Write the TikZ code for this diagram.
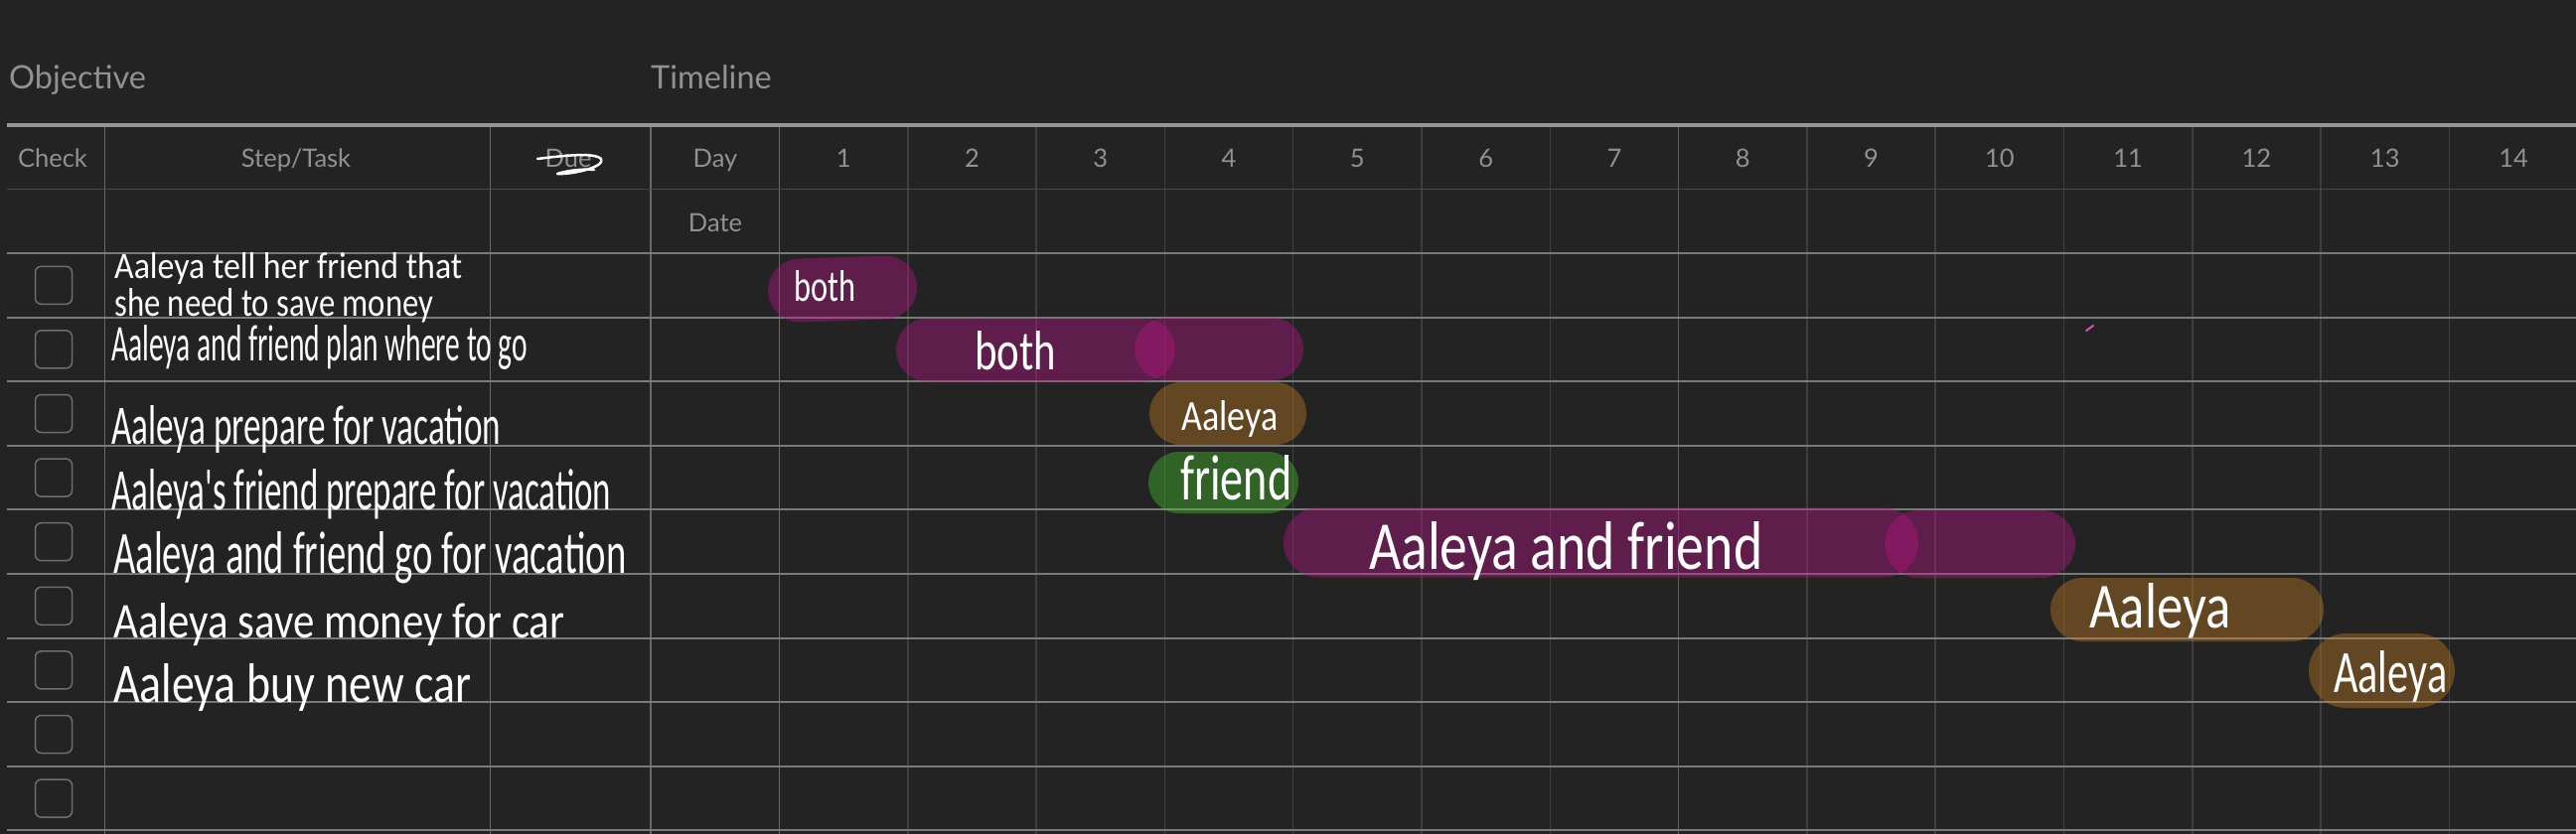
\documentclass[tikz,border=0pt]{standalone}
\usepackage{fontspec}
\usepackage{graphicx}
\usetikzlibrary{shapes.misc}
\newfontfamily\uifont{Lato}
\newfontfamily\handfont{Carlito}
\definecolor{bgc}{RGB}{35,35,35}
\definecolor{hdrc}{RGB}{145,145,145}
\definecolor{thickc}{RGB}{150,150,150}
\definecolor{rowc}{RGB}{122,122,122}
\definecolor{dimc}{RGB}{62,62,62}
\definecolor{hdimc}{RGB}{74,74,74}
\definecolor{vbrightc}{RGB}{105,105,105}
\definecolor{weekc}{RGB}{92,92,92}
\definecolor{boxc}{RGB}{110,110,110}
\definecolor{magc}{RGB}{184,21,133}
\definecolor{orac}{RGB}{196,126,34}
\definecolor{grnc}{RGB}{71,196,46}
\newcommand{\hw}[3]{\resizebox{#1pt}{#2pt}{\handfont #3}}
\begin{document}
\begin{tikzpicture}[x=1pt,y=-1pt,
  hdr/.style={text=hdrc, font=\uifont\fontsize{25.5}{30}\selectfont, inner sep=0pt, anchor=base},
  ttl/.style={text=hdrc, font=\uifont\fontsize{32.5}{38}\selectfont, inner sep=0pt, anchor=base west},
  hand/.style={text=white, inner sep=0pt, anchor=base west},
  chk/.style={draw=boxc, line width=1.5pt, rounded corners=6pt, minimum width=37pt, minimum height=38pt, inner sep=0pt},
  bar/.style={rounded rectangle, fill=#1, fill opacity=0.4, draw=none, inner sep=0pt},
  rowline/.style={draw=rowc, line width=2pt},
  dimline/.style={draw=dimc, line width=1.5pt},
  vline/.style={draw=vbrightc, line width=1.5pt},
  weekline/.style={draw=weekc, line width=1.5pt},
  thickline/.style={draw=thickc, line width=3.5pt},
  scribble/.style={draw=white, line width=2.5pt, line cap=round, line join=round}]
\useasboundingbox (0,0) rectangle (2593,840);
\fill[bgc] (0,0) rectangle (2593,840);
% day column lines (dim)
\foreach \k in {1,...,13} { \draw[dimline] ({784.5+129.3*\k},126) -- ({784.5+129.3*\k},840); }
\draw[weekline] ({784.5+129.3*7},126) -- ({784.5+129.3*7},840);
% main vertical lines
\foreach \xx in {105.6,493.7,655,784.5} { \draw[vline] (\xx,126) -- (\xx,840); }
% header inner line
\draw[draw=hdimc, line width=1.5pt] (7,190.7) -- (2593,190.7);
% row lines
\foreach \k in {0,...,9} { \draw[rowline] (7,{255+64.6*\k}) -- (2593,{255+64.6*\k}); }
% thick top line
\draw[thickline] (7,126) -- (2593,126);
% titles
\node[ttl] (objective) at (9,90) {Objective};
\node[ttl] (timeline) at (655,90) {Timeline};
% header row
\node[hdr] (hcheck) at (53,168) {Check};
\node[hdr] (hstep) at (298,168) {Step/Task};
\node[hdr] (hdue) at (572,168) {Due};
\node[hdr] (hday) at (720,168) {Day};
\node[hdr] (hdate) at (720,233) {Date};
\foreach \k in {1,...,14} { \node[hdr] (d\k) at ({784.5+129.3*(\k-0.5)},168) {\k}; }
\draw[scribble] (541,160) .. controls (565,157) and (598,153) .. (605,160) .. controls (610,168) and (576,176) .. (561,175) .. controls (574,171) and (589,170) .. (598,171);
% checkboxes
\foreach \k in {1,...,9} { \node[chk] (cb\k) at (54,{287.3+64.6*(\k-1)}) {}; }
% bars
\node[bar=magc, minimum width=150pt, minimum height=64pt, rotate=2] (bar1) at (848,291) {};
\node[bar=magc, minimum width=281pt, minimum height=64pt] (bar2a) at (1042.5,352.5) {};
\node[bar=magc, minimum width=170pt, minimum height=63pt] (bar2b) at (1227,351.5) {};
\node[bar=orac, minimum width=158pt, minimum height=63pt] (bar3) at (1236,416.5) {};
\node[bar=grnc, minimum width=151pt, minimum height=62pt] (bar4) at (1231.5,486) {};
\node[bar=magc, minimum width=639pt, minimum height=70pt] (bar5a) at (1611.5,546.5) {};
\node[bar=magc, minimum width=192pt, minimum height=68pt] (bar5b) at (1993,548) {};
\node[bar=orac, minimum width=275pt, minimum height=64pt] (bar6) at (2201.5,614) {};
\node[bar=orac, minimum width=147pt, minimum height=75pt] (bar7) at (2397.5,675.5) {};
\draw[draw=magc!70!white, line width=2pt, line cap=round] (2100,333) -- (2107,328);
% task texts
\node[hand] (t1a) at (115,280) {\hw{350}{26}{Aaleya tell her friend that}};
\node[hand] (t1b) at (115,318) {\hw{321}{28}{she need to save money}};
\node[hand] (t2) at (112,363) {\hw{419}{36}{Aaleya and friend plan where to go}};
\node[hand] (t3) at (112,447) {\hw{392}{39}{Aaleya prepare for vacation}};
\node[hand] (t4) at (112,513) {\hw{503}{41}{Aaleya's friend prepare for vacation}};
\node[hand] (t5) at (114,577) {\hw{516}{42}{Aaleya and friend go for vacation}};
\node[hand] (t6) at (114,642) {\hw{454}{35}{Aaleya save money for car}};
\node[hand] (t7) at (114,707) {\hw{360}{39}{Aaleya buy new car}};
% bar texts
\node[hand] (b1t) at (799,303) {\hw{62}{31}{both}};
\node[hand] (b2t) at (981,372) {\hw{82}{39}{both}};
\node[hand] (b3t) at (1189,433) {\hw{97}{30}{Aaleya}};
\node[hand] (b4t) at (1188,503) {\hw{112}{45}{friend}};
\node[hand] (b5t) at (1378,573) {\hw{396}{48}{Aaleya and friend}};
\node[hand] (b6t) at (2103,632) {\hw{142}{45}{Aaleya}};
\node[hand] (b7t) at (2349,697) {\hw{114}{42}{Aaleya}};
\end{tikzpicture}
\end{document}
